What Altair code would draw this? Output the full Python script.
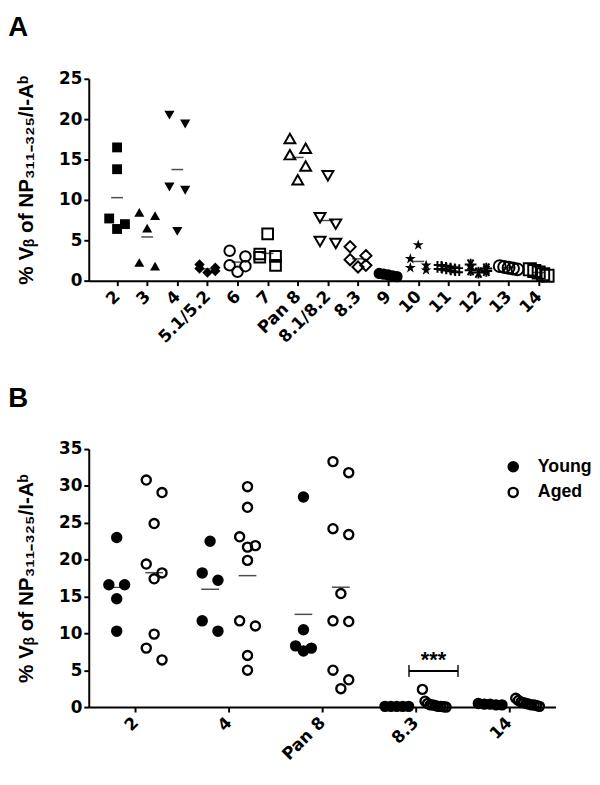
import json
import altair as alt
import pandas as pd

# ---------------- Panel A data ----------------
cats_a = ["2", "3", "4", "5.1/5.2", "6", "7", "Pan 8", "8.1/8.2", "8.3",
          "9", "10", "11", "12", "13", "14"]
vals_a = [
    [16.5, 13.8, 7.7, 6.4, 7.0],
    [8.05, 8.45, 6.5, 1.8, 2.25],
    [19.4, 20.5, 11.6, 11.2, 6.1],
    [2.0, 1.6, 1.2, 1.0, 1.5],
    [3.7, 1.9, 1.1, 1.8, 3.0],
    [5.8, 3.0, 1.9, 3.3, 2.9],
    [16.4, 17.6, 15.6, 14.2, 12.5],
    [13.0, 7.8, 7.0, 4.6, 4.85],
    [4.2, 2.6, 3.1, 1.7, 1.9],
    [0.8, 0.6, 0.9, 0.5, 0.7],
    [4.4, 2.7, 1.9, 1.3, 1.6],
    [1.7, 1.5, 1.4, 1.3, 1.6],
    [2.0, 1.5, 1.2, 1.0, 1.3],
    [1.7, 1.6, 1.5, 1.4, 1.8],
    [1.0, 0.8, 1.2, 0.6, 1.4],
]

# ---------------- Panel B data ----------------
cats_b = ["2", "4", "Pan 8", "8.3", "14"]
groups_b = ["Young", "Aged"]
young_b = [
    [23.0, 16.6, 16.6, 14.7, 10.3],
    [22.5, 18.2, 17.2, 11.7, 10.3],
    [28.5, 10.5, 8.3, 7.6, 8.0],
    [0.1, 0.1, 0.1, 0.1, 0.1],
    [0.3, 0.5, 0.4, 0.3, 0.4],
]
aged_b = [
    [30.8, 29.1, 24.9, 19.4, 18.2, 17.4, 9.9, 8.0, 6.4],
    [29.9, 27.1, 23.1, 21.7, 21.9, 19.9, 11.0, 11.7, 7.0, 5.0],
    [33.3, 31.8, 24.2, 23.4, 15.4, 11.6, 11.7, 5.0, 3.7, 2.5],
    [2.4, 0.8, 0.5, 0.3, 0.2, 0.1, 0.1, 0.05, 0.0, 0.3],
    [1.2, 0.9, 0.6, 0.4, 0.3, 0.2, 0.5, 0.1, 0.7, 0.3],
]
sig_label = "***"

# ---------------- styles ----------------
STAR = ("M0,-1L0.2245,-0.309L0.951,-0.309L0.363,0.118L0.588,0.809L0,0.382"
        "L-0.588,0.809L-0.363,0.118L-0.951,-0.309L-0.2245,-0.309Z")
HASH = "M-0.35,-1L-0.35,1M0.35,-1L0.35,1M-1,-0.35L1,-0.35M-1,0.35L1,0.35"
ASTER = "M-1,0L1,0M-0.5,-0.87L0.5,0.87M-0.5,0.87L0.5,-0.87M0,-1L0,1"
DIAMOND = "M0,-1L1,0L0,1L-1,0Z"
shapes_a = ["square", "triangle-up", "triangle-down", DIAMOND, "circle", "square",
            "triangle-up", "triangle-down", DIAMOND, "circle", STAR, HASH, ASTER,
            "circle", "square"]
filled_a = [True, True, True, True, False, False, False, False, False,
            True, True, False, False, False, False]
sizes_a = [100, 150, 150, 160, 95, 100, 150, 150, 160, 80, 75, 130, 110, 95, 100]

TICK_FONT = "DejaVu Sans"
TEXT_FONT = "Liberation Sans"
YTITLE = "% V\u1d66 of NP\u2083\u2081\u2081\u208b\u2083\u2082\u2085/I-A\u1d47"

WA, HA = 463, 205
WB, HB = 474, 262
DOM_A = [-0.94, 14.2]
DOM_B = [-0.5, 4.5]
step_a = WA / (DOM_A[1] - DOM_A[0])
step_b = WB / (DOM_B[1] - DOM_B[0])
ppu_a = HA / 25
ppu_b = HB / 35
GROUP_SHIFT = 19 / step_b


def swarm(vals, ppu, D=13, s=8, span=24):
    """Prism-like scatter spread: points that crowd vertically are pushed sideways."""
    n = len(vals)
    order = sorted(range(n), key=lambda i: -vals[i])
    clusters = []
    for i in order:
        if clusters and (vals[clusters[-1][-1]] - vals[i]) * ppu < D:
            clusters[-1].append(i)
        else:
            clusters.append([i])
    off = [0.0] * n
    for c in clusters:
        m = len(c)
        if m == 1:
            continue
        extent = (vals[c[0]] - vals[c[-1]]) * ppu
        if m >= 4 and extent < 2 * (m - 1):
            sp = min(s, span / (m - 1))
            pos = [(k - (m - 1) / 2) * sp for k in range(m)]
        else:
            pos = [(-s if k % 2 == 0 else s) for k in range(m)]
            if m % 2 == 1:
                pos[-1] = 0.0
        for i, p in zip(c, pos):
            off[i] = p
    return off


rows_a = []
for idx, (cat, vs) in enumerate(zip(cats_a, vals_a)):
    offs = swarm(vs, ppu_a, span=18)
    for v, o in zip(vs, offs):
        rows_a.append({"cat": cat, "idx": idx, "v": v, "jit": o / step_a,
                       "filled": filled_a[idx]})
df_a = pd.DataFrame(rows_a)

rows_b = []
for idx, cat in enumerate(cats_b):
    for g, series in zip(groups_b, [young_b, aged_b]):
        vs = series[idx]
        offs = swarm(vs, ppu_b)
        base = idx + (-GROUP_SHIFT if g == "Young" else GROUP_SHIFT)
        for v, o in zip(vs, offs):
            rows_b.append({"cat": cat, "group": g, "base": base, "v": v,
                           "jit": o / step_b})
df_b = pd.DataFrame(rows_b)

# ---------------- Panel A ----------------
xa = alt.X("x:Q", scale=alt.Scale(domain=DOM_A, nice=False, zero=False),
           axis=alt.Axis(values=list(range(len(cats_a))),
                         labelExpr=json.dumps(cats_a) + "[datum.value]",
                         labelAngle=-45, labelAlign="right", labelBaseline="middle",
                         labelPadding=8, title=None))
ya = alt.Y("v:Q", scale=alt.Scale(domain=[0, 25], nice=False),
           axis=alt.Axis(values=[0, 5, 10, 15, 20, 25], title=YTITLE))
shape_a = alt.Shape("cat:N", scale=alt.Scale(domain=cats_a, range=shapes_a), legend=None)
size_a = alt.Size("cat:N", scale=alt.Scale(domain=cats_a, range=sizes_a), legend=None)

base_a = alt.Chart(df_a).transform_calculate(x="datum.idx + datum.jit")
pts_fill = base_a.transform_filter("datum.filled").mark_point(
    filled=True, color="black", opacity=1).encode(x=xa, y=ya, shape=shape_a, size=size_a)
pts_open = base_a.transform_filter("!datum.filled").mark_point(
    filled=False, color="black", opacity=1, strokeWidth=2).encode(
    x=xa, y=ya, shape=shape_a, size=size_a)
mean_a = alt.Chart(df_a).transform_aggregate(
    v="mean(v)", groupby=["idx"]).transform_calculate(x="datum.idx").mark_tick(
    orient="horizontal", color="black", size=12, thickness=1.5).encode(x=xa, y=ya)

chart_a = alt.layer(mean_a, pts_open, pts_fill).properties(
    width=WA, height=HA,
    title=alt.TitleParams("A", anchor="start", frame="bounds", fontSize=28,
                          font=TEXT_FONT, fontWeight="bold", color="black",
                          offset=28, dx=-8))

# ---------------- Panel B ----------------
xb = alt.X("x:Q", scale=alt.Scale(domain=DOM_B, nice=False, zero=False),
           axis=alt.Axis(values=list(range(len(cats_b))),
                         labelExpr=json.dumps(cats_b) + "[datum.value]",
                         labelAngle=-45, labelAlign="right", labelBaseline="middle",
                         labelPadding=8, title=None))
yb = alt.Y("v:Q", scale=alt.Scale(domain=[0, 35], nice=False),
           axis=alt.Axis(values=[0, 5, 10, 15, 20, 25, 30, 35], title=YTITLE))

pts_b = alt.Chart(df_b).transform_calculate(x="datum.base + datum.jit").mark_point(
    filled=True, shape="circle", size=85, stroke="black", strokeWidth=2.4,
    opacity=1).encode(
    x=xb, y=yb,
    fill=alt.Fill("group:N", scale=alt.Scale(domain=groups_b,
                                             range=["black", "transparent"]),
                  legend=alt.Legend(title=None, orient="none", legendX=422,
                                    legendY=385, labelFont=TEXT_FONT,
                                    labelFontSize=18, labelFontWeight="bold",
                                    labelColor="black", symbolType="circle",
                                    symbolSize=85, symbolStrokeColor="black",
                                    symbolStrokeWidth=2.5, labelOffset=16,
                                    rowPadding=6)))
mean_b = alt.Chart(df_b).transform_aggregate(
    v="mean(v)", groupby=["base"]).transform_calculate(x="datum.base").mark_tick(
    orient="horizontal", color="black", size=18, thickness=1.5).encode(x=xb, y=yb)

sig_idx = cats_b.index("8.3")
sig_df = pd.DataFrame({"x": [sig_idx - 0.07], "x2": [sig_idx + 0.455],
                       "v": [4.9], "lab": [sig_label]})
bracket = alt.Chart(sig_df).mark_rule(color="black", strokeWidth=2).encode(
    x=xb, x2="x2:Q", y=yb)
caps = alt.Chart(sig_df).transform_fold(["x", "x2"], as_=["k", "xx"]).transform_calculate(
    x="datum.xx").mark_tick(orient="vertical", color="black", size=12,
                            thickness=2).encode(x=xb, y=yb)
stars = alt.Chart(sig_df).transform_calculate(
    x="(datum.x + datum.x2) / 2", v="datum.v + 1.5").mark_text(
    font=TEXT_FONT, fontWeight="bold", fontSize=22, color="black",
    baseline="middle").encode(x=xb, y=yb, text="lab:N")

chart_b = alt.layer(mean_b, bracket, caps, stars, pts_b).properties(
    width=WB, height=HB,
    title=alt.TitleParams("B", anchor="start", frame="bounds", fontSize=28,
                          font=TEXT_FONT, fontWeight="bold", color="black",
                          offset=28, dx=-8))

chart = alt.vconcat(chart_a, chart_b, spacing=40).properties(
    padding={"left": 0, "top": 1, "right": 0, "bottom": 0}
).configure_view(stroke=None).configure_axis(
    grid=False, domainColor="black", domainWidth=2, tickColor="black", tickWidth=2,
    tickSize=5, labelColor="black", labelFont=TICK_FONT, labelFontWeight="bold",
    labelFontSize=17, labelOverlap=False, titleColor="black", titleFont=TEXT_FONT,
    titleFontWeight="bold", titleFontSize=21, titlePadding=22
).configure_axisX(labelAngle=-45, labelAlign="right", labelBaseline="middle")

chart.save("out.html", embed_options={"renderer": "svg", "actions": False})
